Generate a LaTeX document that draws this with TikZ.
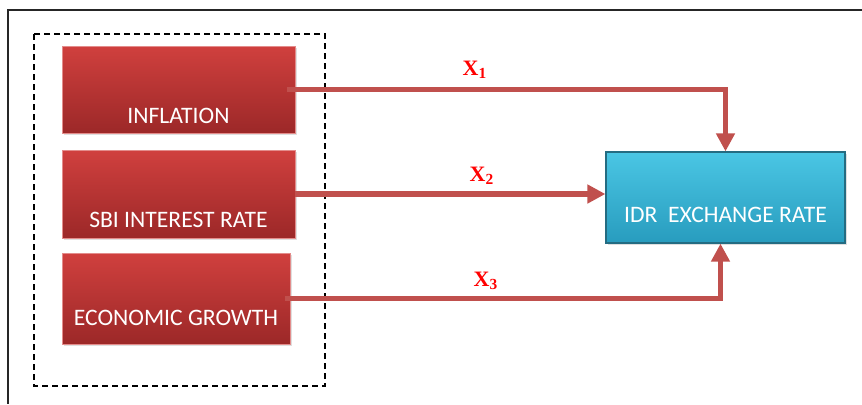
\documentclass[tikz,border=0pt]{standalone}
\usepackage{fontspec}
\setmainfont{Carlito}
\newfontfamily\xfont{Liberation Serif}
\usetikzlibrary{arrows.meta,positioning,shadows}
\definecolor{boxredtop}{RGB}{208,64,62}
\definecolor{boxredbot}{RGB}{156,40,40}
\definecolor{boxbluetop}{RGB}{74,198,228}
\definecolor{boxbluebot}{RGB}{40,156,190}
\definecolor{boxblueedge}{RGB}{36,108,130}
\definecolor{linkred}{RGB}{192,80,77}
\newcommand{\xlab}[1]{{\xfont\bfseries X\textsubscript{#1}}}

\begin{document}
\begin{tikzpicture}[>=Stealth,x=0.5pt,y=-0.5pt,
    redbox/.style={rectangle,draw=boxredtop!60!white,line width=0.3pt,
      top color=boxredtop,bottom color=boxredbot,text=white,
      font=\fontsize{11.8}{13}\selectfont,inner sep=2pt,
      drop shadow={opacity=0.25,shadow xshift=1pt,shadow yshift=-1pt}},
    bluebox/.style={redbox,draw=boxblueedge,line width=0.6pt,
      top color=boxbluetop,bottom color=boxbluebot},
    link/.style={draw=linkred,line width=2.8pt,-{Triangle[width=9pt,length=9pt]}},
    weight/.style={text=red,font=\fontsize{11}{12}\selectfont,inner sep=0pt}]
    \useasboundingbox (0,0) rectangle (862,404);

    % Frame
    \draw[line width=0.6pt,black!85] (862,10) -- (8,10) -- (8,404);

    % Independent variables
    \draw[dash pattern=on 3pt off 2pt,line width=0.9pt] (34,34) rectangle (325,386);
    \node[redbox,minimum width=116.5pt,minimum height=43.5pt,
      text height=36.5pt,text depth=3pt] (infl) at (178.5,89.5) {INFLATION};
    \node[redbox,minimum width=116.5pt,minimum height=44pt,
      text height=36.5pt,text depth=3.5pt] (sbi) at (178.5,194) {SBI INTEREST RATE};
    \node[redbox,minimum width=114pt,minimum height=45.5pt,
      text height=34pt,text depth=7.5pt] (econ) at (176,298.5) {ECONOMIC GROWTH};

    % Dependent variable
    \node[bluebox,minimum width=119.5pt,minimum height=45.5pt,
      text height=33pt,text depth=8.5pt] (idr) at (725.5,197.5) {IDR\ \ EXCHANGE RATE};

    % Links
    \draw[link] ([xshift=-4pt]infl.east) -| (idr.north);
    \draw[link] (sbi.east) -- (sbi.east -| idr.west);
    \draw[link] ([xshift=-2.5pt]econ.east) -| ([xshift=-2.5pt]idr.south);

    \node[weight] (x1) at (475,70) {\xlab{1}};
    \node[weight] (x2) at (482,176) {\xlab{2}};
    \node[weight] (x3) at (486,281) {\xlab{3}};
\end{tikzpicture}
\end{document}
